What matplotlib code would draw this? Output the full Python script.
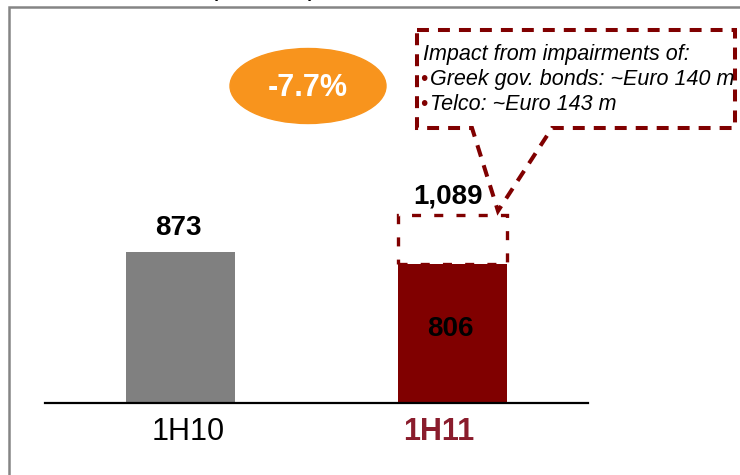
import matplotlib.pyplot as plt
from matplotlib.patches import Ellipse, Polygon
from matplotlib.transforms import ScaledTranslation

plt.rcParams['font.family'] = ['Liberation Sans', 'DejaVu Sans']

# data
periods = ['1H10', '1H11']
reported = [873, 806]
before_impairments = [None, 1089]
change_label = '-7.7%'
unit_label = '(Euro m)'
note_title = 'Impact from impairments of:'
note_items = ['Greek gov. bonds: ~Euro 140 m', 'Telco: ~Euro 143 m']

grey = '#808080'
dark_red = '#800000'
label_red = '#8A1C2C'
orange = '#F8941D'

fig = plt.figure(figsize=(7.4, 4.75), dpi=100)

# main axes: baseline at y=403px, top at y=7px
ax = fig.add_axes([45 / 740, 72 / 475, 543 / 740, 396 / 475])
x = list(range(len(periods)))
ax.bar(x, reported, width=0.4015, color=[grey, dark_red], zorder=2)

# dashed box showing profit before impairments
for i, v in enumerate(before_impairments):
    if v is None:
        continue
    lw = 2.4
    ax.bar(i, v - reported[i], bottom=reported[i], width=0.4015, fill=False,
           edgecolor=dark_red, linewidth=lw, linestyle=(0, (6.5 / lw, 9.5 / lw)), zorder=3)
    ax.annotate(f'{v:,}', (i, v), xytext=(-3.2, 12.8), textcoords='offset points',
                ha='center', va='center', fontsize=20, fontweight='bold')

ax.annotate(f'{reported[0]:,}', (0, reported[0]), xytext=(-1.4, 17.4), textcoords='offset points',
            ha='center', va='center', fontsize=20, fontweight='bold')
ax.annotate(f'{reported[1]:,}', (1, reported[1] / 2), xytext=(-1, 3), textcoords='offset points',
            ha='center', va='center', fontsize=20, fontweight='bold', zorder=4)

ax.set_xlim(-0.5, 1.5)
ax.set_ylim(0, 396 / 0.173)
ax.set_yticks([])
ax.set_xticks(x)
ax.set_xticklabels(periods, fontsize=22)
ax.tick_params(axis='x', length=0, pad=10)
labels = ax.get_xticklabels()
labels[1].set_color(label_red)
labels[1].set_fontweight('bold')
shifts = [7, -14]
for lab, s in zip(labels, shifts):
    lab.set_transform(lab.get_transform() + ScaledTranslation(s / 100, 0, fig.dpi_scale_trans))
for side in ['top', 'left', 'right']:
    ax.spines[side].set_visible(False)
ax.spines['bottom'].set_linewidth(1.6)
ax.spines['bottom'].set_color('black')
ax.patch.set_alpha(0)

# overlay in pixel coordinates for frame and callouts
ov = fig.add_axes([0, 0, 1, 1], zorder=5)
ov.set_xlim(0, 740)
ov.set_ylim(475, 0)
ov.axis('off')

ov.plot([9, 9, 745], [480, 7, 7], color='#858585', lw=1.8, clip_on=False, solid_joinstyle='miter')
# title sits above the crop, only the bottom of the brackets shows
ov.text(263, -5, unit_label, ha='center', va='baseline', fontsize=20, clip_on=False)

ov.add_patch(Ellipse((308, 86), 156, 75, color=orange))
ov.text(308, 88, change_label, ha='center', va='center', color='white', fontsize=22, fontweight='bold')

lw = 2.9
call = Polygon([(417, 30), (735, 30), (735, 128), (552, 128), (498, 211), (472, 128), (417, 128)],
               closed=True, fill=False, edgecolor=dark_red, linewidth=lw,
               linestyle=(0, (8.6 / lw, 6.5 / lw)), joinstyle='miter')
ov.add_patch(call)

ov.text(423, 60, note_title, ha='left', va='baseline', fontsize=15.5, style='italic')
for k, item in enumerate(note_items):
    y = 85 + 25 * k
    ov.text(420, y, '•', ha='left', va='baseline', fontsize=15, color=dark_red)
    ov.text(430, y, item, ha='left', va='baseline', fontsize=15.5, style='italic')

fig.savefig('out.png', dpi=100)
